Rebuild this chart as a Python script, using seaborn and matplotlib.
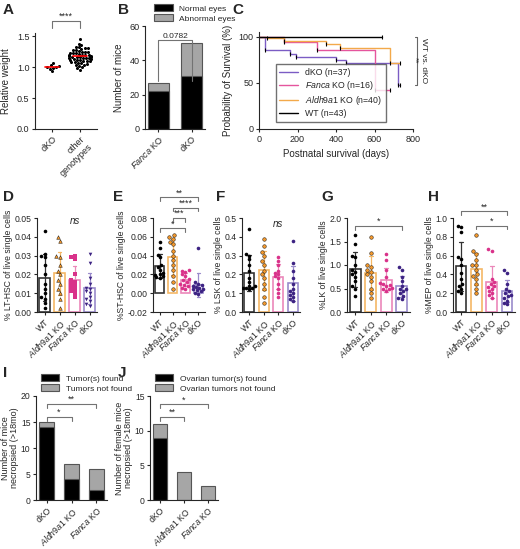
import numpy as np
import pandas as pd
import matplotlib
matplotlib.use("Agg")
import matplotlib.pyplot as plt
import seaborn as sns

sns.set_theme(style="ticks")
plt.rcParams['font.family'] = ['Liberation Sans', 'DejaVu Sans']
plt.rcParams['mathtext.fontset'] = 'custom'
plt.rcParams['mathtext.it'] = 'Liberation Sans:italic'
plt.rcParams['mathtext.rm'] = 'Liberation Sans'
plt.rcParams['font.size'] = 7
plt.rcParams['axes.linewidth'] = 0.8

# ---------- data ----------
A_dko = [0.93, 0.97, 0.99, 1.0, 1.0, 1.01, 1.03, 1.07]
A_other = [1.45, 1.38, 1.35, 1.33, 1.32, 1.30, 1.30, 1.29, 1.28, 1.27, 1.26, 1.25, 1.25, 1.24,
           1.23, 1.22, 1.22, 1.21, 1.20, 1.20, 1.19, 1.19, 1.18, 1.18, 1.17, 1.17, 1.16, 1.16,
           1.15, 1.15, 1.14, 1.14, 1.13, 1.13, 1.12, 1.12, 1.11, 1.10, 1.10, 1.09, 1.08, 1.08,
           1.07, 1.06, 1.05, 1.04, 1.03, 1.02, 1.00, 0.98, 0.96]

B_groups = ["$\\it{Fanca}$ KO", "dKO"]
B_normal = [22, 31]
B_abnormal = [5, 19]

C_dko_t = [0, 30, 160, 190, 400, 450, 720, 730]
C_dko_s = [100, 86, 81, 78, 75, 71, 48, 48]
C_fanca_t = [0, 130, 300, 600, 680]
C_fanca_s = [100, 94, 85, 42, 42]
C_aldh_t = [0, 40, 130, 350, 420, 680, 730]
C_aldh_s = [100, 98, 95, 92, 88, 71, 71]
C_wt_t = [0, 640]
C_wt_s = [100, 100]

groups = ["WT", "$\\it{Aldh9a1}$ KO", "$\\it{Fanca}$ KO", "dKO"]
D_vals = [[0.043,0.031,0.030,0.029,0.025,0.020,0.015,0.012,0.010,0.008,0.007,0.005,0.002],
          [0.040,0.038,0.030,0.029,0.025,0.022,0.020,0.017,0.015,0.012,0.010,0.007,0.002],
          [0.030,0.029,0.028,0.020,0.017,0.016,0.015,0.014,0.013,0.012,0.011,0.010,0.008],
          [0.031,0.026,0.018,0.015,0.013,0.012,0.011,0.010,0.008,0.007,0.006,0.004,0.003]]
E_vals = [[0.054,0.048,0.041,0.038,0.030,0.028,0.025,0.022,0.020,0.019,0.018,0.017,0.016],
          [0.062,0.060,0.058,0.055,0.052,0.045,0.040,0.035,0.030,0.025,0.018,0.012,0.005],
          [0.025,0.024,0.023,0.020,0.018,0.015,0.014,0.012,0.010,0.009,0.008,0.006,0.005],
          [0.048,0.012,0.010,0.009,0.008,0.007,0.006,0.005,0.004,0.003,0.002,0.000,-0.001]]
F_vals = [[0.44,0.31,0.30,0.28,0.25,0.22,0.18,0.16,0.14,0.14,0.13,0.13,0.13,0.12],
          [0.39,0.35,0.32,0.30,0.27,0.25,0.22,0.20,0.18,0.15,0.12,0.08,0.05],
          [0.29,0.27,0.25,0.22,0.21,0.20,0.19,0.18,0.15,0.12,0.10,0.08],
          [0.38,0.26,0.22,0.18,0.15,0.12,0.11,0.10,0.09,0.08,0.07,0.06]]
G_vals = [[1.63,1.45,1.20,1.18,1.0,0.9,0.85,0.8,0.75,0.65,0.55,0.5,0.35],
          [1.6,1.25,1.0,0.95,0.9,0.85,0.8,0.75,0.65,0.5,0.4,0.3],
          [1.23,1.1,0.9,0.75,0.62,0.6,0.58,0.55,0.52,0.5,0.48,0.45],
          [0.95,0.9,0.75,0.65,0.55,0.5,0.48,0.45,0.4,0.35,0.3,0.28]]
H_vals = [[0.92,0.9,0.85,0.58,0.56,0.5,0.42,0.35,0.3,0.28,0.25,0.22,0.2],
          [0.82,0.65,0.62,0.55,0.5,0.45,0.4,0.38,0.35,0.3,0.25,0.2,0.5],
          [0.67,0.65,0.35,0.32,0.3,0.28,0.27,0.25,0.22,0.2,0.18,0.15],
          [0.45,0.42,0.3,0.25,0.22,0.2,0.18,0.17,0.15,0.12,0.1,0.08]]

IJ_groups = ["dKO", "$\\it{Aldh9a1}$ KO", "$\\it{Fanca}$ KO"]
I_found = [14, 4, 2]
I_notfound = [1, 3, 4]
J_found = [9, 0, 0]
J_notfound = [2, 4, 2]

# ---------- layout ----------
W, H = 520, 549
fig = plt.figure(figsize=(W/100, H/100), dpi=100)
def ax_px(x0, x1, ytop, ybot):
    return fig.add_axes([x0/W, 1-ybot/H, (x1-x0)/W, (ybot-ytop)/H])

def style(ax, fs=6.5):
    sns.despine(ax=ax)
    ax.tick_params(labelsize=fs, length=2.5, width=0.8, pad=1.5)

def bracket(ax, x1, x2, y, h, text, fs=6.5):
    ax.plot([x1, x1, x2, x2], [y-h, y, y, y-h], color='0.45', lw=0.8, clip_on=False)
    ax.text((x1+x2)/2, y, text, ha='center', va='bottom', fontsize=fs, clip_on=False)

def label(x, y, s):
    fig.text(x/W, 1-y/H, s, fontsize=11, fontweight='bold', va='top', ha='left')

cols = ['black', '#F0962B', '#D9328A', '#3D2383']
edge = ['#333333', '#F5B866', '#EB88BA', '#9A8BCB']

# A
ax = ax_px(35, 97, 33, 129)
dfA = pd.DataFrame({'g': ['dKO']*len(A_dko) + ['other\ngenotypes']*len(A_other),
                    'v': A_dko + A_other})
sns.swarmplot(data=dfA, x='g', y='v', ax=ax, color='black', size=2.2)
for i, arr in enumerate([A_dko, A_other]):
    m = np.mean(arr)
    ax.plot([i-0.25, i+0.25], [m, m], color='red', lw=1.2, zorder=5)
ax.set_ylim(0, 1.55); ax.set_yticks([0, 0.5, 1.0, 1.5])
ax.set_xlim(-0.6, 1.6)
ax.set_xlabel(''); ax.set_ylabel('Relative weight', fontsize=7)
for t in ax.get_xticklabels(): t.set_rotation(45); t.set_ha('right'); t.set_rotation_mode('anchor')
bracket(ax, 0, 1, 1.75, 0.12, '****')
style(ax)
label(3, 3, 'A')

# B
ax = ax_px(145, 205, 26, 129)
tot = [a+b for a, b in zip(B_normal, B_abnormal)]
sns.barplot(x=B_groups, y=tot, ax=ax, color='#A6A6A6', edgecolor='#555555', linewidth=0.8, width=0.65, label='Abnormal eyes')
sns.barplot(x=B_groups, y=B_normal, ax=ax, color='black', edgecolor='#555555', linewidth=0.8, width=0.65, label='Normal eyes')
ax.set_ylim(0, 60); ax.set_yticks([0, 20, 40, 60])
ax.set_ylabel('Number of mice', fontsize=7)
for t in ax.get_xticklabels(): t.set_rotation(45); t.set_ha('right'); t.set_rotation_mode('anchor')
bracket(ax, 0, 1, 52, 24, '0.0782', fs=6)
h, l = ax.get_legend_handles_labels()
ax.legend(h[::-1], l[::-1], loc='lower left', bbox_to_anchor=(0.1, 1.0), frameon=False,
          fontsize=6, handlelength=2.2, handleheight=0.9, borderaxespad=0, labelspacing=0.2)
style(ax)
label(118, 3, 'B')

# C
ax = ax_px(259, 413, 32, 129)
for t_, s_, c, nm in [(C_dko_t, C_dko_s, '#7B5CC4', 'dKO (n=37)'),
                      (C_fanca_t, C_fanca_s, '#E5559E', '$\\it{Fanca}$ KO (n=16)'),
                      (C_aldh_t, C_aldh_s, '#F3A94A', '$\\it{Aldh9a1}$ KO (n=40)'),
                      (C_wt_t, C_wt_s, 'black', 'WT (n=43)')]:
    sns.lineplot(x=t_, y=s_, ax=ax, drawstyle='steps-post', color=c, lw=1.0, label=nm)
    ax.plot(t_[1:], s_[1:], '|', color='black', ms=3, mew=0.8)
ax.set_xlim(0, 800); ax.set_ylim(0, 105)
ax.set_xticks([0, 200, 400, 600, 800]); ax.set_yticks([0, 50, 100])
ax.set_xlabel('Postnatal survival (days)', fontsize=7)
ax.set_ylabel('Probability of Survival (%)', fontsize=7)
ax.legend(loc='lower left', bbox_to_anchor=(0.08, 0.03), fontsize=6.3, frameon=True,
          fancybox=False, edgecolor='0.3', handlelength=2.2, labelspacing=0.25)
ax.plot([810, 820, 820, 810], [100, 100, 48, 48], color='0.4', lw=0.8, clip_on=False)
ax.text(832, 74, 'WT vs. dKO\n**', rotation=-90, ha='center', va='center', fontsize=6, clip_on=False)
style(ax)
label(232, 3, 'C')

# D-H
def dotbar(ax, vals, ylabel, ylim, yticks, markers=None):
    df = pd.DataFrame({'g': sum([[g]*len(v) for g, v in zip(groups, vals)], []),
                       'v': sum(vals, [])})
    sns.barplot(data=df, x='g', y='v', ax=ax, errorbar='sd', fill=False, width=0.7,
                hue='g', palette=edge, linewidth=1.2, err_kws={'linewidth': 0.9}, capsize=0.25,
                legend=False)
    for i, (g, v) in enumerate(zip(groups, vals)):
        sub = pd.DataFrame({'g': [g]*len(v), 'v': v})
        mk = markers[i] if markers else 'o'
        sns.swarmplot(data=sub, x='g', y='v', ax=ax, order=groups, color=cols[i], size=2.6,
                      marker=mk, edgecolor='black' if i == 1 else None,
                      linewidth=0.3 if i == 1 else 0)
    ax.set_ylim(*ylim); ax.set_yticks(yticks)
    ax.set_xlabel(''); ax.set_ylabel(ylabel, fontsize=6.2, labelpad=1)
    for t in ax.get_xticklabels(): t.set_rotation(45); t.set_ha('right'); t.set_rotation_mode('anchor')
    style(ax, fs=6.2)

ax = ax_px(37, 97, 218, 312)
dotbar(ax, D_vals, '% LT-HSC of live single cells', (0, 0.05), [0, 0.01, 0.02, 0.03, 0.04, 0.05],
       markers=['o', '^', 's', 'v'])
ax.set_yticklabels(['0.00', '0.01', '0.02', '0.03', '0.04', '0.05'])
ax.text(2, 0.047, 'ns', style='italic', ha='center', fontsize=7)
label(3, 190, 'D')

ax = ax_px(153, 205, 218, 312)
dotbar(ax, E_vals, '%ST-HSC of live single cells', (-0.02, 0.08), [-0.02, 0, 0.02, 0.04, 0.06, 0.08])
ax.set_yticklabels(['-0.02', '0.00', '0.02', '0.04', '0.06', '0.08'])
bracket(ax, 0, 2, 0.069, 0.004, '*')
bracket(ax, 1, 2, 0.080, 0.004, '***')
bracket(ax, 1, 3, 0.091, 0.004, '****')
bracket(ax, 0, 3, 0.102, 0.004, '**')
label(113, 190, 'E')

ax = ax_px(242, 300, 218, 312)
dotbar(ax, F_vals, '% LSK of live single cells', (0, 0.5), [0, 0.1, 0.2, 0.3, 0.4, 0.5])
ax.text(2, 0.45, 'ns', style='italic', ha='center', fontsize=7)
label(216, 190, 'F')

ax = ax_px(347, 410, 218, 312)
dotbar(ax, G_vals, '%LK of live single cells', (0, 2.0), [0, 0.5, 1.0, 1.5, 2.0])
bracket(ax, 0, 3, 1.83, 0.08, '*')
label(321, 190, 'G')

ax = ax_px(453, 515, 218, 312)
dotbar(ax, H_vals, '%MEP of live single cells', (0, 1.0), [0, 0.2, 0.4, 0.6, 0.8, 1.0])
bracket(ax, 1, 3, 0.92, 0.04, '*')
bracket(ax, 0, 3, 1.07, 0.04, '**')
label(428, 190, 'H')

# I, J
def stacked(ax, found, notfound, ylim, yticks, ylabel, l1, l2):
    tot = [a+b for a, b in zip(found, notfound)]
    sns.barplot(x=IJ_groups, y=tot, ax=ax, color='#A6A6A6', edgecolor='#555555', linewidth=0.8, width=0.6, label=l2)
    sns.barplot(x=IJ_groups, y=found, ax=ax, color='black', edgecolor='#555555', linewidth=0.8, width=0.6, label=l1)
    ax.set_ylim(*ylim); ax.set_yticks(yticks)
    ax.set_ylabel(ylabel, fontsize=6.5, labelpad=1, linespacing=1.0)
    for t in ax.get_xticklabels(): t.set_rotation(45); t.set_ha('right'); t.set_rotation_mode('anchor')
    h, l = ax.get_legend_handles_labels()
    ax.legend(h[::-1], l[::-1], loc='lower left', bbox_to_anchor=(0.02, 1.0), frameon=False,
              fontsize=6, handlelength=2.2, handleheight=0.9, borderaxespad=0, labelspacing=0.2)
    style(ax, fs=6.2)

ax = ax_px(36, 107, 396, 500)
stacked(ax, I_found, I_notfound, (0, 20), [0, 5, 10, 15, 20],
        'Number of mice\nnecropsied (>18mo)', 'Tumor(s) found', 'Tumors not found')
bracket(ax, 0, 1, 16.0, 0.8, '*')
bracket(ax, 0, 2, 18.5, 0.8, '**')
label(3, 366, 'I')

ax = ax_px(150, 218, 396, 500)
stacked(ax, J_found, J_notfound, (0, 15), [0, 5, 10, 15],
        'Number of female mice\nnecropsied (>18mo)', 'Ovarian tumor(s) found', 'Ovarian tumors not found')
bracket(ax, 0, 1, 12.0, 0.6, '**')
bracket(ax, 0, 2, 13.8, 0.6, '*')
label(118, 366, 'J')

fig.savefig('out.png', dpi=100)
